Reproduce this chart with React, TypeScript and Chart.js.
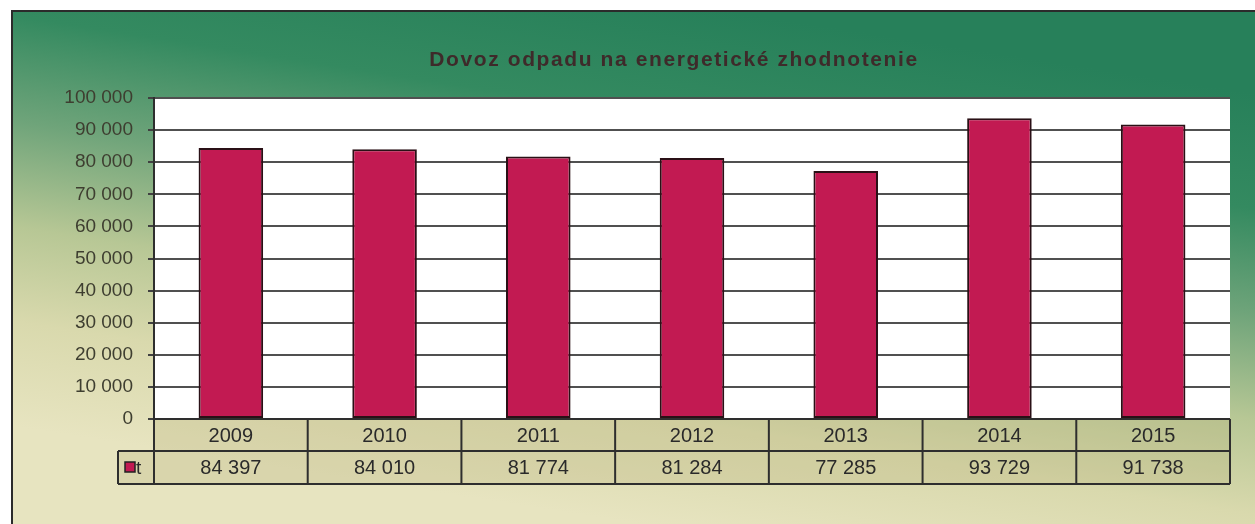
import React, { useEffect, useRef } from "react";
import { Chart, registerables } from "chart.js";

Chart.register(...registerables);

const TITLE = "Dovoz odpadu na energetické zhodnotenie";
const YEARS = ["2009", "2010", "2011", "2012", "2013", "2014", "2015"];
const VALUES = [84397, 84010, 81774, 81284, 77285, 93729, 91738];
const SERIES_NAME = "t";
const Y_MIN = 0;
const Y_MAX = 100000;
const Y_STEP = 10000;

const fmt = (v: number) => String(Math.round(v)).replace(/\B(?=(\d{3})+(?!\d))/g, " ");

const BAR_COLOR = "#c21a52";
const BAR_BORDER = "#2a1016";
const FONT = "Arial, 'Liberation Sans', sans-serif";

const decorPlugin = {
  id: "decor",
  beforeDraw(chart: any) {
    const { ctx, width, height, chartArea } = chart;
    ctx.save();
    ctx.fillStyle = "#ffffff";
    ctx.fillRect(0, 0, width, height);
    const g = ctx.createLinearGradient(720, 10, 640, 524);
    g.addColorStop(0, "#27805a");
    g.addColorStop(0.22, "#348a60");
    g.addColorStop(0.42, "#6fa47a");
    g.addColorStop(0.62, "#b7c795");
    g.addColorStop(0.8, "#d9d9ad");
    g.addColorStop(1, "#e7e4c0");
    ctx.fillStyle = g;
    ctx.fillRect(11, 10, width - 11, height - 10);
    ctx.strokeStyle = "#2b2b2b";
    ctx.lineWidth = 2;
    ctx.beginPath();
    ctx.moveTo(11, 11);
    ctx.lineTo(width, 11);
    ctx.moveTo(12, 10);
    ctx.lineTo(12, height);
    ctx.stroke();
    // plot area
    ctx.fillStyle = "#ffffff";
    ctx.fillRect(chartArea.left, chartArea.top, chartArea.right - chartArea.left, chartArea.bottom - chartArea.top);
    // title
    ctx.fillStyle = "#3e2a2a";
    ctx.font = "bold 21px " + FONT;
    ctx.textAlign = "left";
    ctx.textBaseline = "middle";
    const target = 488;
    const w0 = ctx.measureText(TITLE).width;
    const ls = Math.max(0, (target - w0) / (TITLE.length - 1));
    (ctx as any).letterSpacing = ls.toFixed(2) + "px";
    const w1 = ctx.measureText(TITLE).width;
    ctx.fillText(TITLE, 674 - w1 / 2, 60);
    (ctx as any).letterSpacing = "0px";
    ctx.restore();
  },
  afterDraw(chart: any) {
    const { ctx, chartArea, scales } = chart;
    const x = scales.x;
    const n = YEARS.length;
    const colW = (chartArea.right - chartArea.left) / n;
    const r1Top = chartArea.bottom;
    const r1Bot = r1Top + 32;
    const r2Bot = r1Bot + 33;
    const legLeft = chartArea.left - 36;
    ctx.save();
    ctx.fillStyle = "rgba(185,178,125,0.30)";
    ctx.fillRect(chartArea.left, r1Top, chartArea.right - chartArea.left, r2Bot - r1Top);
    ctx.fillRect(legLeft, r1Bot, chartArea.left - legLeft, r2Bot - r1Bot);
    ctx.strokeStyle = "#2e2e2e";
    ctx.lineWidth = 2;
    ctx.beginPath();
    ctx.moveTo(chartArea.left, r1Top);
    ctx.lineTo(chartArea.right, r1Top);
    ctx.moveTo(legLeft, r1Bot);
    ctx.lineTo(chartArea.right, r1Bot);
    ctx.moveTo(legLeft, r2Bot);
    ctx.lineTo(chartArea.right, r2Bot);
    ctx.moveTo(legLeft, r1Bot);
    ctx.lineTo(legLeft, r2Bot);
    for (let i = 0; i <= n; i++) {
      const xx = chartArea.left + i * colW;
      ctx.moveTo(xx, r1Top);
      ctx.lineTo(xx, r2Bot);
    }
    ctx.stroke();
    ctx.fillStyle = "#2a2a2a";
    ctx.font = "20px " + FONT;
    ctx.textAlign = "center";
    ctx.textBaseline = "middle";
    for (let i = 0; i < n; i++) {
      const cx = x.getPixelForValue(i);
      ctx.fillText(YEARS[i], cx, (r1Top + r1Bot) / 2 + 1);
      ctx.fillText(fmt(VALUES[i]), cx, (r1Bot + r2Bot) / 2 + 1);
    }
    // legend key
    ctx.fillStyle = BAR_COLOR;
    ctx.fillRect(legLeft + 7, r1Bot + 11, 10, 10);
    ctx.strokeStyle = "#222";
    ctx.lineWidth = 1.5;
    ctx.strokeRect(legLeft + 7, r1Bot + 11, 10, 10);
    ctx.fillStyle = "#2a2a2a";
    ctx.textAlign = "left";
    ctx.font = "19px " + FONT;
    ctx.fillText(SERIES_NAME, legLeft + 18, (r1Bot + r2Bot) / 2 + 1);
    ctx.restore();
  },
};

export default function App() {
  const ref = useRef<HTMLCanvasElement>(null);
  useEffect(() => {
    document.body.style.margin = "0";
    const chart = new Chart(ref.current as HTMLCanvasElement, {
      type: "bar",
      data: {
        labels: YEARS,
        datasets: [
          {
            label: SERIES_NAME,
            data: VALUES,
            backgroundColor: BAR_COLOR,
            borderColor: BAR_BORDER,
            borderWidth: 2,
            borderSkipped: false,
            barPercentage: 0.42,
            categoryPercentage: 1,
          },
        ],
      },
      options: {
        animation: false,
        responsive: false,
        maintainAspectRatio: false,
        layout: { padding: { left: 0, top: 98, right: 25, bottom: 105 } },
        plugins: { legend: { display: false }, title: { display: false }, tooltip: { enabled: false } },
        scales: {
          x: { display: false, offset: true },
          y: {
            min: Y_MIN,
            max: Y_MAX,
            afterFit: (s: any) => {
              s.width = 154;
            },
            ticks: {
              stepSize: Y_STEP,
              padding: 15,
              color: "#3e3e30",
              font: { family: FONT, size: 19 },
              callback: (v: any) => fmt(Number(v)),
            },
            grid: { color: "#505050", lineWidth: 2, drawTicks: true, tickLength: 6, tickColor: "#404040" },
            border: { display: true, color: "#2e2e2e", width: 2 },
          },
        },
      },
      plugins: [decorPlugin],
    });
    return () => chart.destroy();
  }, []);
  return (
    <div style={{ position: "absolute", left: 0, top: 0, width: 1255, height: 524 }}>
      <canvas ref={ref} width={1255} height={524} style={{ width: 1255, height: 524, display: "block" }} />
    </div>
  );
}
